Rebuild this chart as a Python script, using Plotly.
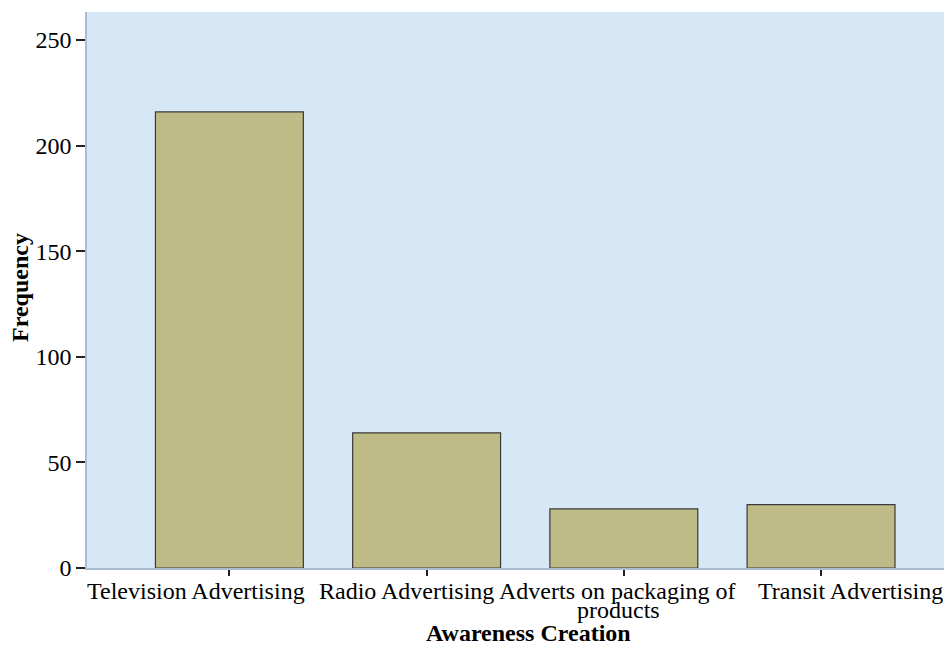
import plotly.graph_objects as go

categories = ["Television Advertising", "Radio Advertising", "Adverts on packaging of products", "Transit Advertising"]
frequency = [216, 64, 28, 30]
y_ticks = [0, 50, 100, 150, 200, 250]

W, H = 944, 637
L, R, T, B = 79, 0, 4, 77
ph = H - T - B
pw = W - L - R

# label layout like the reference (labels nudged sideways to avoid collisions)
label_shift = [-33, -20, -6, 29]

first_lines, second_lines = [], []
for c in categories:
    if c.endswith(" products"):
        first_lines.append(c[: -len(" products")])
        second_lines.append("products")
    else:
        first_lines.append(c)
        second_lines.append("")


def py(img_y):
    return -((img_y - 8) - (H - B)) / ph


fig = go.Figure()
fig.add_trace(go.Bar(
    x=list(range(len(categories))), y=frequency, width=0.75,
    marker=dict(color="#bfbb86", line=dict(color="#3a3a3a", width=1.2)),
))

annotations = [
    dict(text="<b>Awareness Creation</b>", xref="paper", yref="paper",
         x=(528 - 8 - L) / pw, y=py(633),
         xanchor="center", yanchor="middle", showarrow=False,
         font=dict(size=24)),
    dict(text="<b>Frequency</b>", xref="paper", yref="paper",
         x=(12 - L) / pw, y=(H - B - 280) / ph, textangle=-90,
         xanchor="center", yanchor="middle", showarrow=False,
         font=dict(size=24)),
]
for i, (a, b) in enumerate(zip(first_lines, second_lines)):
    annotations.append(dict(text=a, xref="x", yref="paper", x=i, y=py(591),
                            xshift=label_shift[i], xanchor="center", yanchor="middle",
                            showarrow=False, font=dict(size=24)))
    if b:
        annotations.append(dict(text=b, xref="x", yref="paper", x=i, y=py(610),
                                xshift=label_shift[i] + 1, xanchor="center",
                                yanchor="middle", showarrow=False,
                                font=dict(size=24)))

fig.update_layout(
    width=W, height=H,
    margin=dict(l=L, r=R, t=T, b=B),
    paper_bgcolor="white", plot_bgcolor="#d6e8f6",
    font=dict(family="Liberation Serif", size=24, color="black"),
    showlegend=False,
    xaxis=dict(
        range=[-0.722, 3.664], tickmode="array",
        tickvals=list(range(len(categories))), showticklabels=False,
        ticks="outside", ticklen=6, tickcolor="#222", tickwidth=1.5,
        showline=True, linecolor="#a9bccf", linewidth=1.5,
        showgrid=False, zeroline=False,
    ),
    yaxis=dict(
        range=[0, 263.3], tickvals=y_ticks,
        ticks="outside", ticklen=9, tickcolor="#222", tickwidth=1.5,
        showline=True, linecolor="#a9bccf", linewidth=1.5,
        showgrid=False, zeroline=False,
        tickfont=dict(size=24),
    ),
    annotations=annotations,
)
fig.write_html("out.html")
